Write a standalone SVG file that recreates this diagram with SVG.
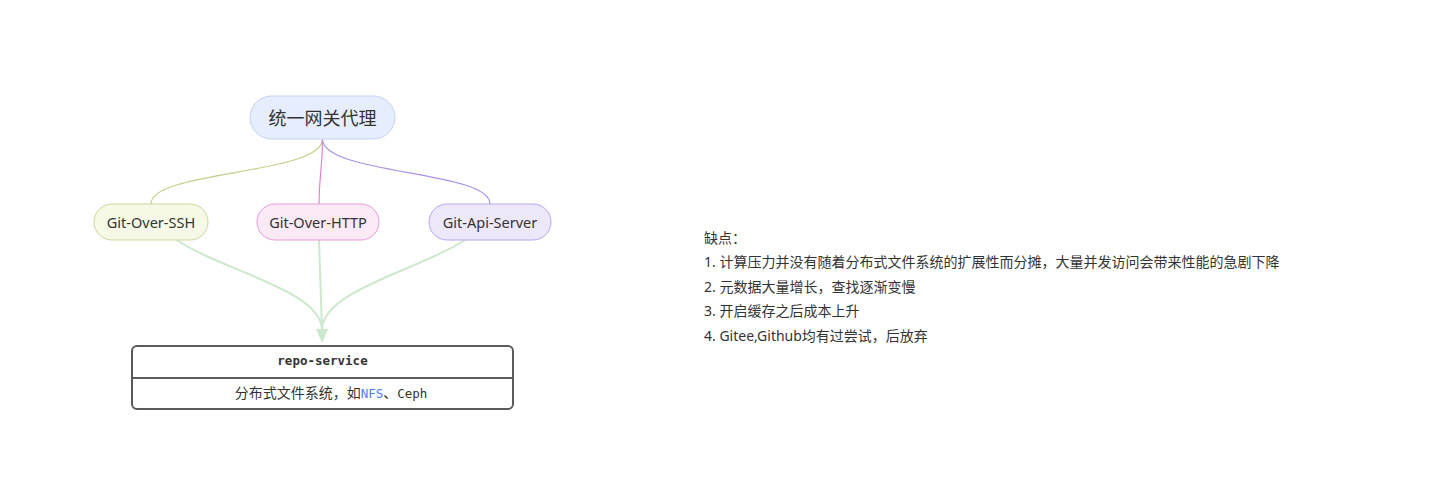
<svg xmlns="http://www.w3.org/2000/svg" width="1429" height="478" viewBox="0 0 1429 478">
<style>
.lbl{font-family:"Noto Sans","Noto Sans CJK SC",sans-serif;fill:#333;text-anchor:middle;dominant-baseline:central}
.note{font-family:"Noto Sans","Noto Sans CJK SC",sans-serif;font-size:14px;fill:#333}
.mono{font-family:"DejaVu Sans Mono","Noto Sans CJK SC",monospace;font-size:12.5px;fill:#333}
.cjk{font-family:"Noto Sans CJK SC",sans-serif;font-size:14px}
.e{fill:none;stroke-width:1.2}
.b{fill:none;stroke:#cde8cd;stroke-width:2}
</style>
<rect width="1429" height="478" fill="#fff"/>
<g id="connectors">
<path class="e" stroke="#c3cf8a" d="M322.5,139 C322.5,175 151,170 151,204"/>
<path class="e" stroke="#e283d3" d="M322.5,139 C322.5,170 319,175 319,204"/>
<path class="e" stroke="#a991e8" d="M322.5,139 C322.5,175 490,170 490,204"/>
<path class="b" d="M177,240 C220,270 322,290 322,330"/>
<path class="b" d="M319,240 L322,330"/>
<path class="b" d="M465,240 C420,270 322,290 322,330"/>
<path d="M316,329 L322,343 L328,329 Z" fill="#cde8cd"/>
</g>
<g id="gateway">
<rect x="250" y="96" width="145" height="43" rx="21.5" fill="#e6edfc" stroke="#c4d2f2" stroke-width="1"/>
<text class="lbl" x="322.5" y="117.5" font-size="18">统一网关代理</text>
</g>
<g id="ssh">
<rect x="94" y="204" width="114" height="36" rx="18" fill="#f6f9e6" stroke="#c9d89c" stroke-width="1"/>
<text class="lbl" x="151" y="222" font-size="14.5">Git-Over-SSH</text>
</g>
<g id="http">
<rect x="257" y="204" width="122" height="36" rx="18" fill="#fbeaf6" stroke="#eb9ad9" stroke-width="1"/>
<text class="lbl" x="318" y="222" font-size="14.5">Git-Over-HTTP</text>
</g>
<g id="api">
<rect x="429" y="204" width="122" height="36" rx="18" fill="#ede7fa" stroke="#b9a6ee" stroke-width="1"/>
<text class="lbl" x="490" y="222" font-size="14.5">Git-Api-Server</text>
</g>
<g id="repo">
<rect x="132" y="346" width="381" height="63" rx="5" fill="#fff" stroke="#5a5a5a" stroke-width="2"/>
<line x1="132" y1="378" x2="513" y2="378" stroke="#5a5a5a" stroke-width="2"/>
<text class="mono" x="322.5" y="365" text-anchor="middle" font-weight="bold">repo-service</text>
<text class="mono" x="331" y="398" text-anchor="middle"><tspan class="cjk">分布式文件系统，如</tspan><tspan fill="#4a7ff2">NFS</tspan><tspan class="cjk">、</tspan>Ceph</text>
</g>
<g id="notes">
<text class="note" x="704" y="243">缺点：</text>
<text class="note" x="704" y="267">1. 计算压力并没有随着分布式文件系统的扩展性而分摊，大量并发访问会带来性能的急剧下降</text>
<text class="note" x="704" y="292">2. 元数据大量增长，查找逐渐变慢</text>
<text class="note" x="704" y="316">3. 开启缓存之后成本上升</text>
<text class="note" x="704" y="341">4. Gitee,Github均有过尝试，后放弃</text>
</g>
</svg>
